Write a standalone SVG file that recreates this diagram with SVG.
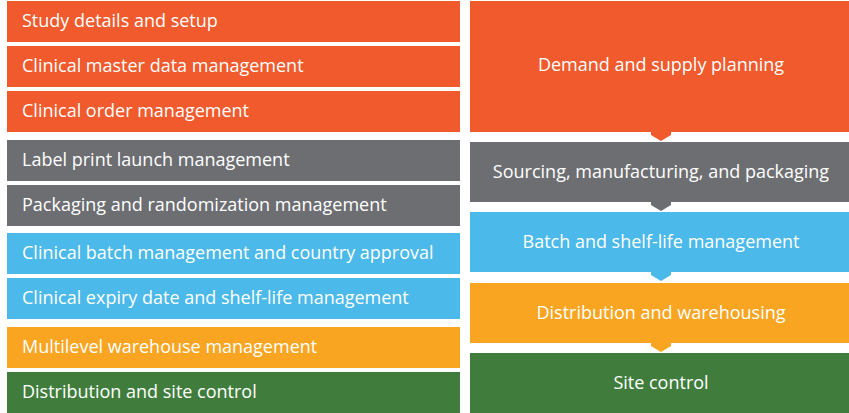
<svg xmlns="http://www.w3.org/2000/svg" width="849" height="413" viewBox="0 0 849 413">
  <style>
    .lbl { font-family: "Open Sans", "Noto Sans", "Liberation Sans", sans-serif; font-size: 18px; fill: #ffffff; }
    .mid { text-anchor: middle; }
    .orange { fill: #F05A2C; }
    .gray { fill: #6D6E72; }
    .blue { fill: #4BB9E9; }
    .amber { fill: #F9A521; }
    .green { fill: #407D3D; }
  </style>
  <rect width="849" height="413" fill="#ffffff"/>

  <!-- Left column: capability list -->
  <g id="study-details"><rect class="orange" x="7" y="1" width="453" height="41"/><text class="lbl" x="22" y="27">Study details and setup</text></g>
  <g id="master-data"><rect class="orange" x="7" y="46" width="453" height="41"/><text class="lbl" x="22" y="72">Clinical master data management</text></g>
  <g id="order-mgmt"><rect class="orange" x="7" y="91" width="453" height="41"/><text class="lbl" x="22" y="117">Clinical order management</text></g>
  <g id="label-print"><rect class="gray" x="7" y="140" width="453" height="41"/><text class="lbl" x="22" y="166">Label print launch management</text></g>
  <g id="packaging-random"><rect class="gray" x="7" y="185" width="453" height="41"/><text class="lbl" x="22" y="211">Packaging and randomization management</text></g>
  <g id="batch-country"><rect class="blue" x="7" y="233" width="453" height="41"/><text class="lbl" x="22" y="259">Clinical batch management and country approval</text></g>
  <g id="expiry-shelf"><rect class="blue" x="7" y="278" width="453" height="41"/><text class="lbl" x="22" y="304">Clinical expiry date and shelf-life management</text></g>
  <g id="multilevel-wh"><rect class="amber" x="7" y="327" width="453" height="41"/><text class="lbl" x="22" y="353">Multilevel warehouse management</text></g>
  <g id="dist-site"><rect class="green" x="7" y="372" width="453" height="41"/><text class="lbl" x="22" y="398">Distribution and site control</text></g>

  <!-- Right column: process flow -->
  <g id="demand-supply"><rect class="orange" x="470" y="1" width="382" height="131"/><text class="lbl mid" x="661" y="71">Demand and supply planning</text></g>
  <g id="sourcing"><rect class="gray" x="470" y="142" width="382" height="60"/><text class="lbl mid" x="661" y="177.5">Sourcing, manufacturing, and packaging</text></g>
  <g id="batch-shelf"><rect class="blue" x="470" y="212" width="382" height="60"/><text class="lbl mid" x="661" y="247.5">Batch and shelf-life management</text></g>
  <g id="dist-wh"><rect class="amber" x="470" y="283" width="382" height="60"/><text class="lbl mid" x="661" y="318.5">Distribution and warehousing</text></g>
  <g id="site-control"><rect class="green" x="470" y="353" width="382" height="60"/><text class="lbl mid" x="661" y="388.5">Site control</text></g>

  <!-- Flow arrows between stages -->
  <g id="connectors">
    <polygon class="orange" points="651,132 671,132 671,135 661,141 651,135"/>
    <polygon class="gray" points="651,202 671,202 671,205 661,211 651,205"/>
    <polygon class="blue" points="651,272 671,272 671,275 661,281 651,275"/>
    <polygon class="amber" points="651,343 671,343 671,346 661,352 651,346"/>
  </g>
</svg>
